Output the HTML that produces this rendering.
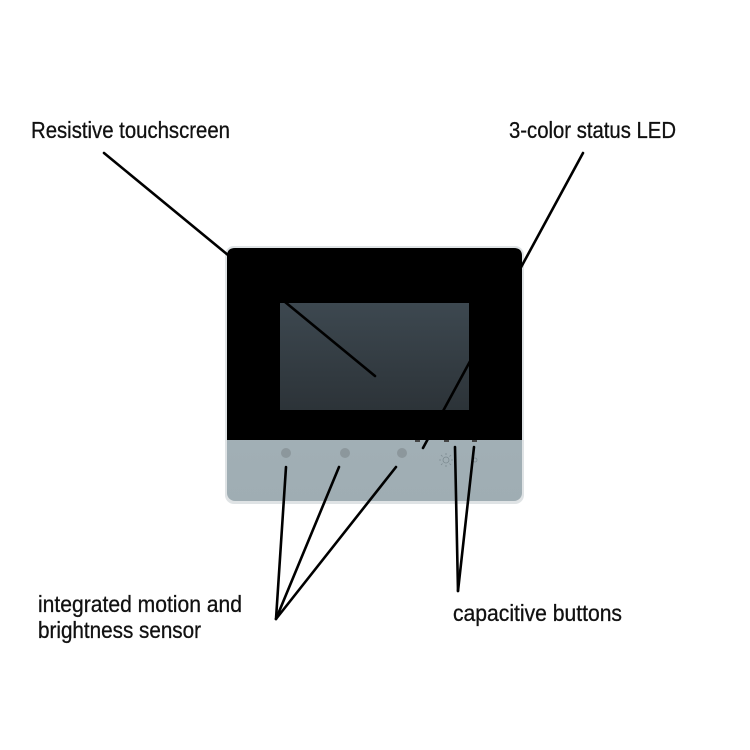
<!DOCTYPE html>
<html><head><style>
html,body{margin:0;padding:0;background:#fff;width:750px;height:750px;overflow:hidden}
</style></head><body>
<svg width="750" height="750" viewBox="0 0 750 750" xmlns="http://www.w3.org/2000/svg">
<defs>
<linearGradient id="scr" x1="0" y1="0" x2="0" y2="1">
<stop offset="0" stop-color="#3d4850"/><stop offset="1" stop-color="#2c3338"/>
</linearGradient>
<linearGradient id="bot" x1="0" y1="0" x2="0" y2="1">
<stop offset="0" stop-color="#a9b6bc"/><stop offset="1" stop-color="#9fadb3"/>
</linearGradient>
</defs>
<rect x="225" y="246" width="299" height="258" rx="9" fill="#dfe3e5"/>
<rect x="227" y="248" width="295" height="253" rx="8" fill="url(#bot)"/>
<path d="M235 248 H514 Q522 248 522 256 V440 H227 V256 Q227 248 235 248 Z" fill="#000"/>
<rect x="280" y="303" width="189" height="107" fill="url(#scr)"/>
<circle cx="286" cy="453" r="5" fill="#8c979c"/>
<circle cx="345" cy="453" r="5" fill="#8c979c"/>
<circle cx="402" cy="453" r="5" fill="#8c979c"/>
<rect x="415" y="440" width="5" height="2" fill="#444"/>
<rect x="444" y="440" width="5" height="2" fill="#444"/>
<rect x="472" y="440" width="5" height="2" fill="#444"/>
<g stroke="#7c8a90" stroke-width="0.8" fill="none">
<circle cx="446" cy="460" r="3"/>
<path d="M446 453v2M446 465v2M439 460h2M451 460h2M441 455l1.5 1.5M451 455l-1.5 1.5M441 465l1.5-1.5M451 465l-1.5-1.5"/>
<circle cx="475" cy="460" r="2"/>
</g>
<g stroke="#000" stroke-width="2.6" stroke-linecap="round" fill="none">
<line x1="104" y1="153" x2="375" y2="376"/>
<line x1="583" y1="153" x2="423" y2="448"/>
<line x1="286" y1="467" x2="276" y2="619"/>
<line x1="339" y1="467" x2="276" y2="619"/>
<line x1="396" y1="467" x2="276" y2="619"/>
<line x1="455" y1="447" x2="458" y2="591"/>
<line x1="474" y1="447" x2="458" y2="591"/>
</g>
<g font-family="'Liberation Sans Narrow','Liberation Sans',sans-serif" font-size="23" fill="#111" stroke="#111" stroke-width="0.3">
<text x="31" y="138" textLength="199" lengthAdjust="spacingAndGlyphs">Resistive touchscreen</text>
<text x="509" y="138" textLength="167" lengthAdjust="spacingAndGlyphs">3-color status LED</text>
<text x="38" y="612" textLength="204" lengthAdjust="spacingAndGlyphs">integrated motion and</text>
<text x="38" y="638" textLength="163" lengthAdjust="spacingAndGlyphs">brightness sensor</text>
<text x="453" y="621" textLength="169" lengthAdjust="spacingAndGlyphs">capacitive buttons</text>
</g>
</svg>
</body></html>
